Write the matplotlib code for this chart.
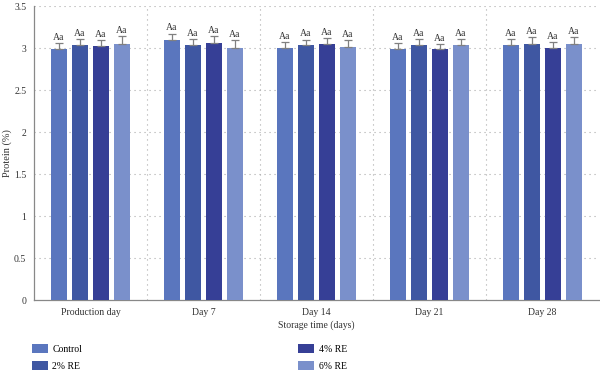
import numpy as np
import matplotlib.pyplot as plt
from matplotlib.patches import Patch

days = ["Production day", "Day 7", "Day 14", "Day 21", "Day 28"]
treatments = ["Control", "2% RE", "4% RE", "6% RE"]
colors = ["#5a76be", "#3f57a2", "#363f96", "#7a90cb"]

protein = {
    "Control": [2.99, 3.10, 3.00, 2.99, 3.04],
    "2% RE":   [3.04, 3.04, 3.03, 3.04, 3.05],
    "4% RE":   [3.02, 3.06, 3.05, 2.99, 3.00],
    "6% RE":   [3.05, 3.00, 3.01, 3.03, 3.05],
}
sd = {
    "Control": [0.07, 0.07, 0.07, 0.07, 0.07],
    "2% RE":   [0.07, 0.07, 0.07, 0.07, 0.08],
    "4% RE":   [0.07, 0.08, 0.07, 0.06, 0.07],
    "6% RE":   [0.09, 0.09, 0.08, 0.08, 0.08],
}
letters = "Aa"

plt.rcParams['font.family'] = ['Liberation Serif', 'DejaVu Serif']

fig = plt.figure(figsize=(6, 3.72), dpi=100)
ax = fig.add_axes([34 / 600, 1 - 300 / 372, 565 / 600, 294 / 372])

x = np.arange(len(days))
step = 0.186
width = 0.142
for i, t in enumerate(treatments):
    pos = x + (i - 1.5) * step
    vals = np.array(protein[t])
    err = np.array(sd[t])
    ax.bar(pos, vals, width, color=colors[i], zorder=3)
    ax.errorbar(pos, vals, yerr=[np.zeros_like(err), err], fmt="none",
                ecolor="#808080", elinewidth=0.9, capsize=2.6, capthick=0.9,
                zorder=4)
    for p, v, e in zip(pos, vals, err):
        ax.text(p, v + e + 0.015, letters, ha="center", va="bottom",
                fontsize=7, color="#333333")

ax.set_xlim(-0.5, len(days) - 0.5)
ax.set_ylim(0, 3.5)
ax.set_yticks(np.arange(0, 3.51, 0.5))
ax.set_yticklabels(["0", "0.5", "1", "1.5", "2", "2.5", "3", "3.5"])
ax.set_xticks(x)
ax.set_xticklabels(days)
ax.tick_params(length=0, labelsize=7, colors="#333333")
ax.tick_params(axis="y", pad=5.5)
ax.tick_params(axis="x", pad=5.5)

dot = (0, (1, 3.5))
for yv in np.arange(0.5, 3.51, 0.5):
    ax.axhline(yv, color="#aaaaaa", lw=0.8, ls=dot, zorder=1)
for xv in x[:-1] + 0.5:
    ax.axvline(xv, color="#aaaaaa", lw=0.8, ls=dot, zorder=1)

for s in ["top", "right"]:
    ax.spines[s].set_visible(False)
for s in ["left", "bottom"]:
    ax.spines[s].set_color("#888888")
    ax.spines[s].set_linewidth(0.9)

ax.set_xlabel("Storage time (days)", fontsize=7, color="#333333", labelpad=3)
ax.set_ylabel("Protein (%)", fontsize=7.5, color="#333333")
ax.yaxis.set_label_coords(-22 / 565, 0.5)

handles = [Patch(facecolor=c) for c in colors]
fig.legend(handles, treatments, loc="upper left",
           bbox_to_anchor=(32 / 600, 1 - 344 / 372), ncol=2, frameon=False,
           fontsize=7, handlelength=1.6, handleheight=1.1, handletextpad=0.5,
           labelspacing=0.7, columnspacing=22.2, borderaxespad=0, borderpad=0)

fig.savefig("out.png", dpi=100)
